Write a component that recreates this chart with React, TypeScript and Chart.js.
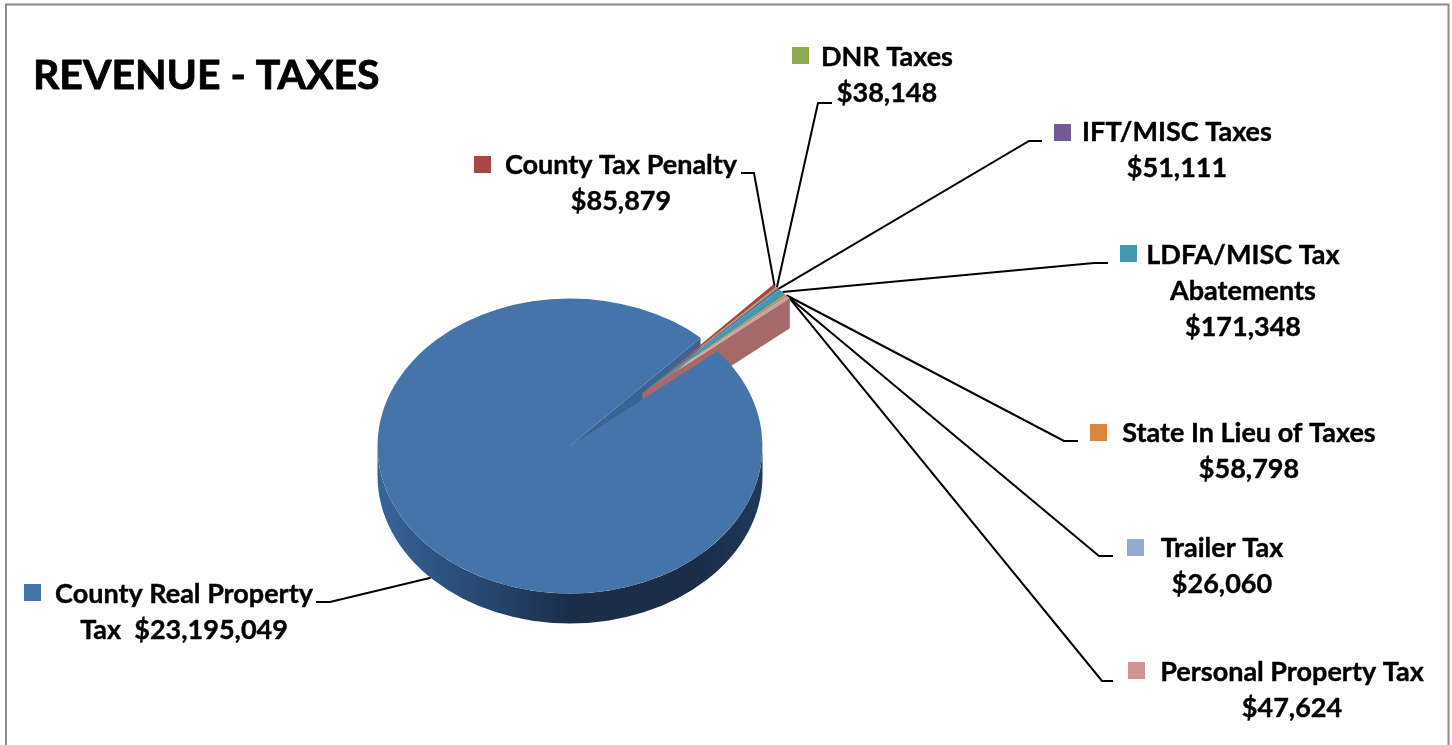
import React, { useEffect, useRef } from "react";
import { Chart, registerables } from "chart.js";

Chart.register(...registerables);

const W = 1452;
const H = 745;

const chartTitle = "REVENUE - TAXES";
const categories = [
  "County Real Property Tax",
  "County Tax Penalty",
  "DNR Taxes",
  "IFT/MISC Taxes",
  "LDFA/MISC Tax Abatements",
  "State In Lieu of Taxes",
  "Trailer Tax",
  "Personal Property Tax",
];
const amounts = [23195049, 85879, 38148, 51111, 171348, 58798, 26060, 47624];
const sliceColors = ["#4574AB", "#A94644", "#8CAA4D", "#725A96", "#4299B2", "#DB843D", "#94A9CF", "#D19392"];

const money = (v: number) => "$" + v.toLocaleString("en-US");

// Text lines per slice; the amount is always formatted from the data.
const labelText = [
  ["County Real Property", "Tax  " + money(amounts[0])],
  ["County Tax Penalty", money(amounts[1])],
  ["DNR Taxes", money(amounts[2])],
  ["IFT/MISC Taxes", money(amounts[3])],
  ["LDFA/MISC Tax", "Abatements", money(amounts[4])],
  ["State In Lieu of Taxes", money(amounts[5])],
  ["Trailer Tax", money(amounts[6])],
  ["Personal Property Tax", money(amounts[7])],
];

// Label placement: key square corner, text centre, first line y, leader elbow.
const labelBox = [
  { kx: 24, ky: 584, cx: 184, y: 594, from: [316, 602], elbow: [330, 602] },
  { kx: 474, ky: 156, cx: 621, y: 165, from: [741, 173], elbow: [754, 173] },
  { kx: 792, ky: 47, cx: 887, y: 57, from: [832, 103], elbow: [818, 103] },
  { kx: 1054, ky: 124, cx: 1177, y: 132, from: [1042, 141], elbow: [1029, 141] },
  { kx: 1120, ky: 245, cx: 1243, y: 255, from: [1108, 263], elbow: [1094, 263] },
  { kx: 1090, ky: 424, cx: 1249, y: 433, from: [1078, 441], elbow: [1064, 441] },
  { kx: 1127, ky: 539, cx: 1222, y: 548, from: [1113, 556], elbow: [1099, 556] },
  { kx: 1128, ky: 662, cx: 1292, y: 672, from: [1113, 681], elbow: [1102, 681] },
];

const PIE_CX = 570;
const PIE_CY = 446;
const RADIUS = 192.5;
const SQUASH = 147.5 / 192.5;
const DEPTH = 30;
const EXPLODE = 100;
const START_DEG = 50;

const sy = (y: number) => PIE_CY + (y - PIE_CY) * SQUASH;

const pieTilt = {
  id: "pieTilt",
  // The small slices leave the pie together as one wedge.
  afterDatasetsUpdate(chart: any) {
    const arcs = chart.getDatasetMeta(0).data;
    const mid = (arcs[1].startAngle + arcs[arcs.length - 1].endAngle) / 2;
    for (let i = 1; i < arcs.length; i++) {
      arcs[i].x += Math.cos(mid) * EXPLODE;
      arcs[i].y += Math.sin(mid) * EXPLODE;
    }
  },
  beforeDraw(chart: any) {
    const { ctx } = chart;
    ctx.save();
    ctx.fillStyle = "#ffffff";
    ctx.fillRect(0, 0, W, H);
    ctx.strokeStyle = "#8a8a8a";
    ctx.lineWidth = 2;
    ctx.beginPath();
    ctx.moveTo(6, H + 2);
    ctx.lineTo(6, 4.5);
    ctx.lineTo(1448.5, 4.5);
    ctx.lineTo(1448.5, H + 2);
    ctx.stroke();
    ctx.restore();
  },
  beforeDatasetsDraw(chart: any) {
    const { ctx } = chart;
    const arcs = chart.getDatasetMeta(0).data;
    const main = arcs[0];
    const last = arcs[arcs.length - 1];
    const rx = main.outerRadius;
    const ry = rx * SQUASH;
    const cx = main.x;
    const cy = sy(main.y);
    const ax = last.x;
    const ay = sy(last.y);

    // Leader lines sit behind the pie.
    ctx.save();
    ctx.strokeStyle = "#000000";
    ctx.lineWidth = 2;
    arcs.forEach((a: any, i: number) => {
      const mid = (a.startAngle + a.endAngle) / 2;
      const ex = a.x + Math.cos(mid) * a.outerRadius;
      const ey = sy(a.y + Math.sin(mid) * a.outerRadius) + (i === 0 ? DEPTH : 0);
      const b = labelBox[i];
      ctx.beginPath();
      ctx.moveTo(b.from[0], b.from[1]);
      ctx.lineTo(b.elbow[0], b.elbow[1]);
      ctx.lineTo(ex, ey);
      ctx.stroke();
    });
    ctx.restore();

    // Rim of the main pie.
    const rim = ctx.createLinearGradient(cx - rx, 0, cx + rx, 0);
    rim.addColorStop(0, "#3A659A");
    rim.addColorStop(0.12, "#2F5786");
    rim.addColorStop(0.3, "#26456D");
    rim.addColorStop(0.5, "#1A2E4A");
    rim.addColorStop(0.85, "#1A2E4A");
    rim.addColorStop(1, "#1F3A5C");
    ctx.fillStyle = rim;
    ctx.beginPath();
    ctx.moveTo(cx + rx, cy);
    ctx.lineTo(cx + rx, cy + DEPTH);
    ctx.ellipse(cx, cy + DEPTH, rx, ry, 0, 0, Math.PI);
    ctx.lineTo(cx - rx, cy);
    ctx.ellipse(cx, cy, rx, ry, 0, Math.PI, 0, true);
    ctx.closePath();
    ctx.fill();

    // Inner cut face of the main pie, seen through the gap.
    const sx = cx + Math.cos(main.endAngle) * rx;
    const syy = cy + Math.sin(main.endAngle) * ry;
    ctx.fillStyle = "#3A6496";
    ctx.beginPath();
    ctx.moveTo(cx, cy);
    ctx.lineTo(sx, syy);
    ctx.lineTo(sx, syy + 10);
    ctx.lineTo(ax, ay + 14);
    ctx.closePath();
    ctx.fill();

    // Cut face under the last exploded slice.
    const ox = ax + Math.cos(last.endAngle) * rx;
    const oy = ay + Math.sin(last.endAngle) * ry;
    ctx.fillStyle = "#A5696A";
    ctx.beginPath();
    ctx.moveTo(ax, ay);
    ctx.lineTo(ox, oy);
    ctx.lineTo(ox, oy + DEPTH);
    ctx.lineTo(ax, ay + DEPTH);
    ctx.closePath();
    ctx.fill();

    // Tilt the top faces of the slices.
    ctx.save();
    ctx.translate(0, PIE_CY);
    ctx.scale(1, SQUASH);
    ctx.translate(0, -PIE_CY);
  },
  afterDatasetsDraw(chart: any) {
    const { ctx } = chart;
    ctx.restore();
  },
  afterDraw(chart: any) {
    const { ctx } = chart;
    ctx.save();
    ctx.fillStyle = "#000000";
    ctx.strokeStyle = "#000000";
    ctx.textBaseline = "middle";
    ctx.textAlign = "left";
    ctx.lineJoin = "round";
    ctx.font = "700 41px Lato";
    ctx.lineWidth = 0.8;
    ctx.fillText(chartTitle, 33, 76);
    ctx.strokeText(chartTitle, 33, 76);
    ctx.font = "700 27px Lato";
    ctx.textAlign = "center";
    ctx.lineWidth = 0.4;
    labelBox.forEach((b, i) => {
      ctx.fillStyle = sliceColors[i];
      ctx.fillRect(b.kx, b.ky, 17, 17);
      ctx.fillStyle = "#000000";
      labelText[i].forEach((line, j) => {
        ctx.fillText(line, b.cx, b.y + j * 36);
        ctx.strokeText(line, b.cx, b.y + j * 36);
      });
    });
    ctx.restore();
  },
};

export default function App() {
  const ref = useRef<HTMLCanvasElement>(null);
  useEffect(() => {
    document.body.style.margin = "0";
    const chart = new Chart(ref.current as HTMLCanvasElement, {
      type: "pie",
      data: {
        labels: categories,
        datasets: [
          {
            data: amounts,
            backgroundColor: sliceColors,
            borderWidth: 0,
            clip: false,
          } as any,
        ],
      },
      options: {
        animation: false,
        responsive: false,
        rotation: START_DEG,
        radius: RADIUS,
        layout: {
          padding: { left: 0, right: W - 2 * PIE_CX, top: 2 * PIE_CY - H, bottom: 0 },
        },
        plugins: { legend: { display: false }, tooltip: { enabled: false }, title: { display: false } },
      },
      plugins: [pieTilt],
    });
    return () => chart.destroy();
  }, []);
  return <canvas ref={ref} width={W} height={H} style={{ display: "block" }} />;
}
